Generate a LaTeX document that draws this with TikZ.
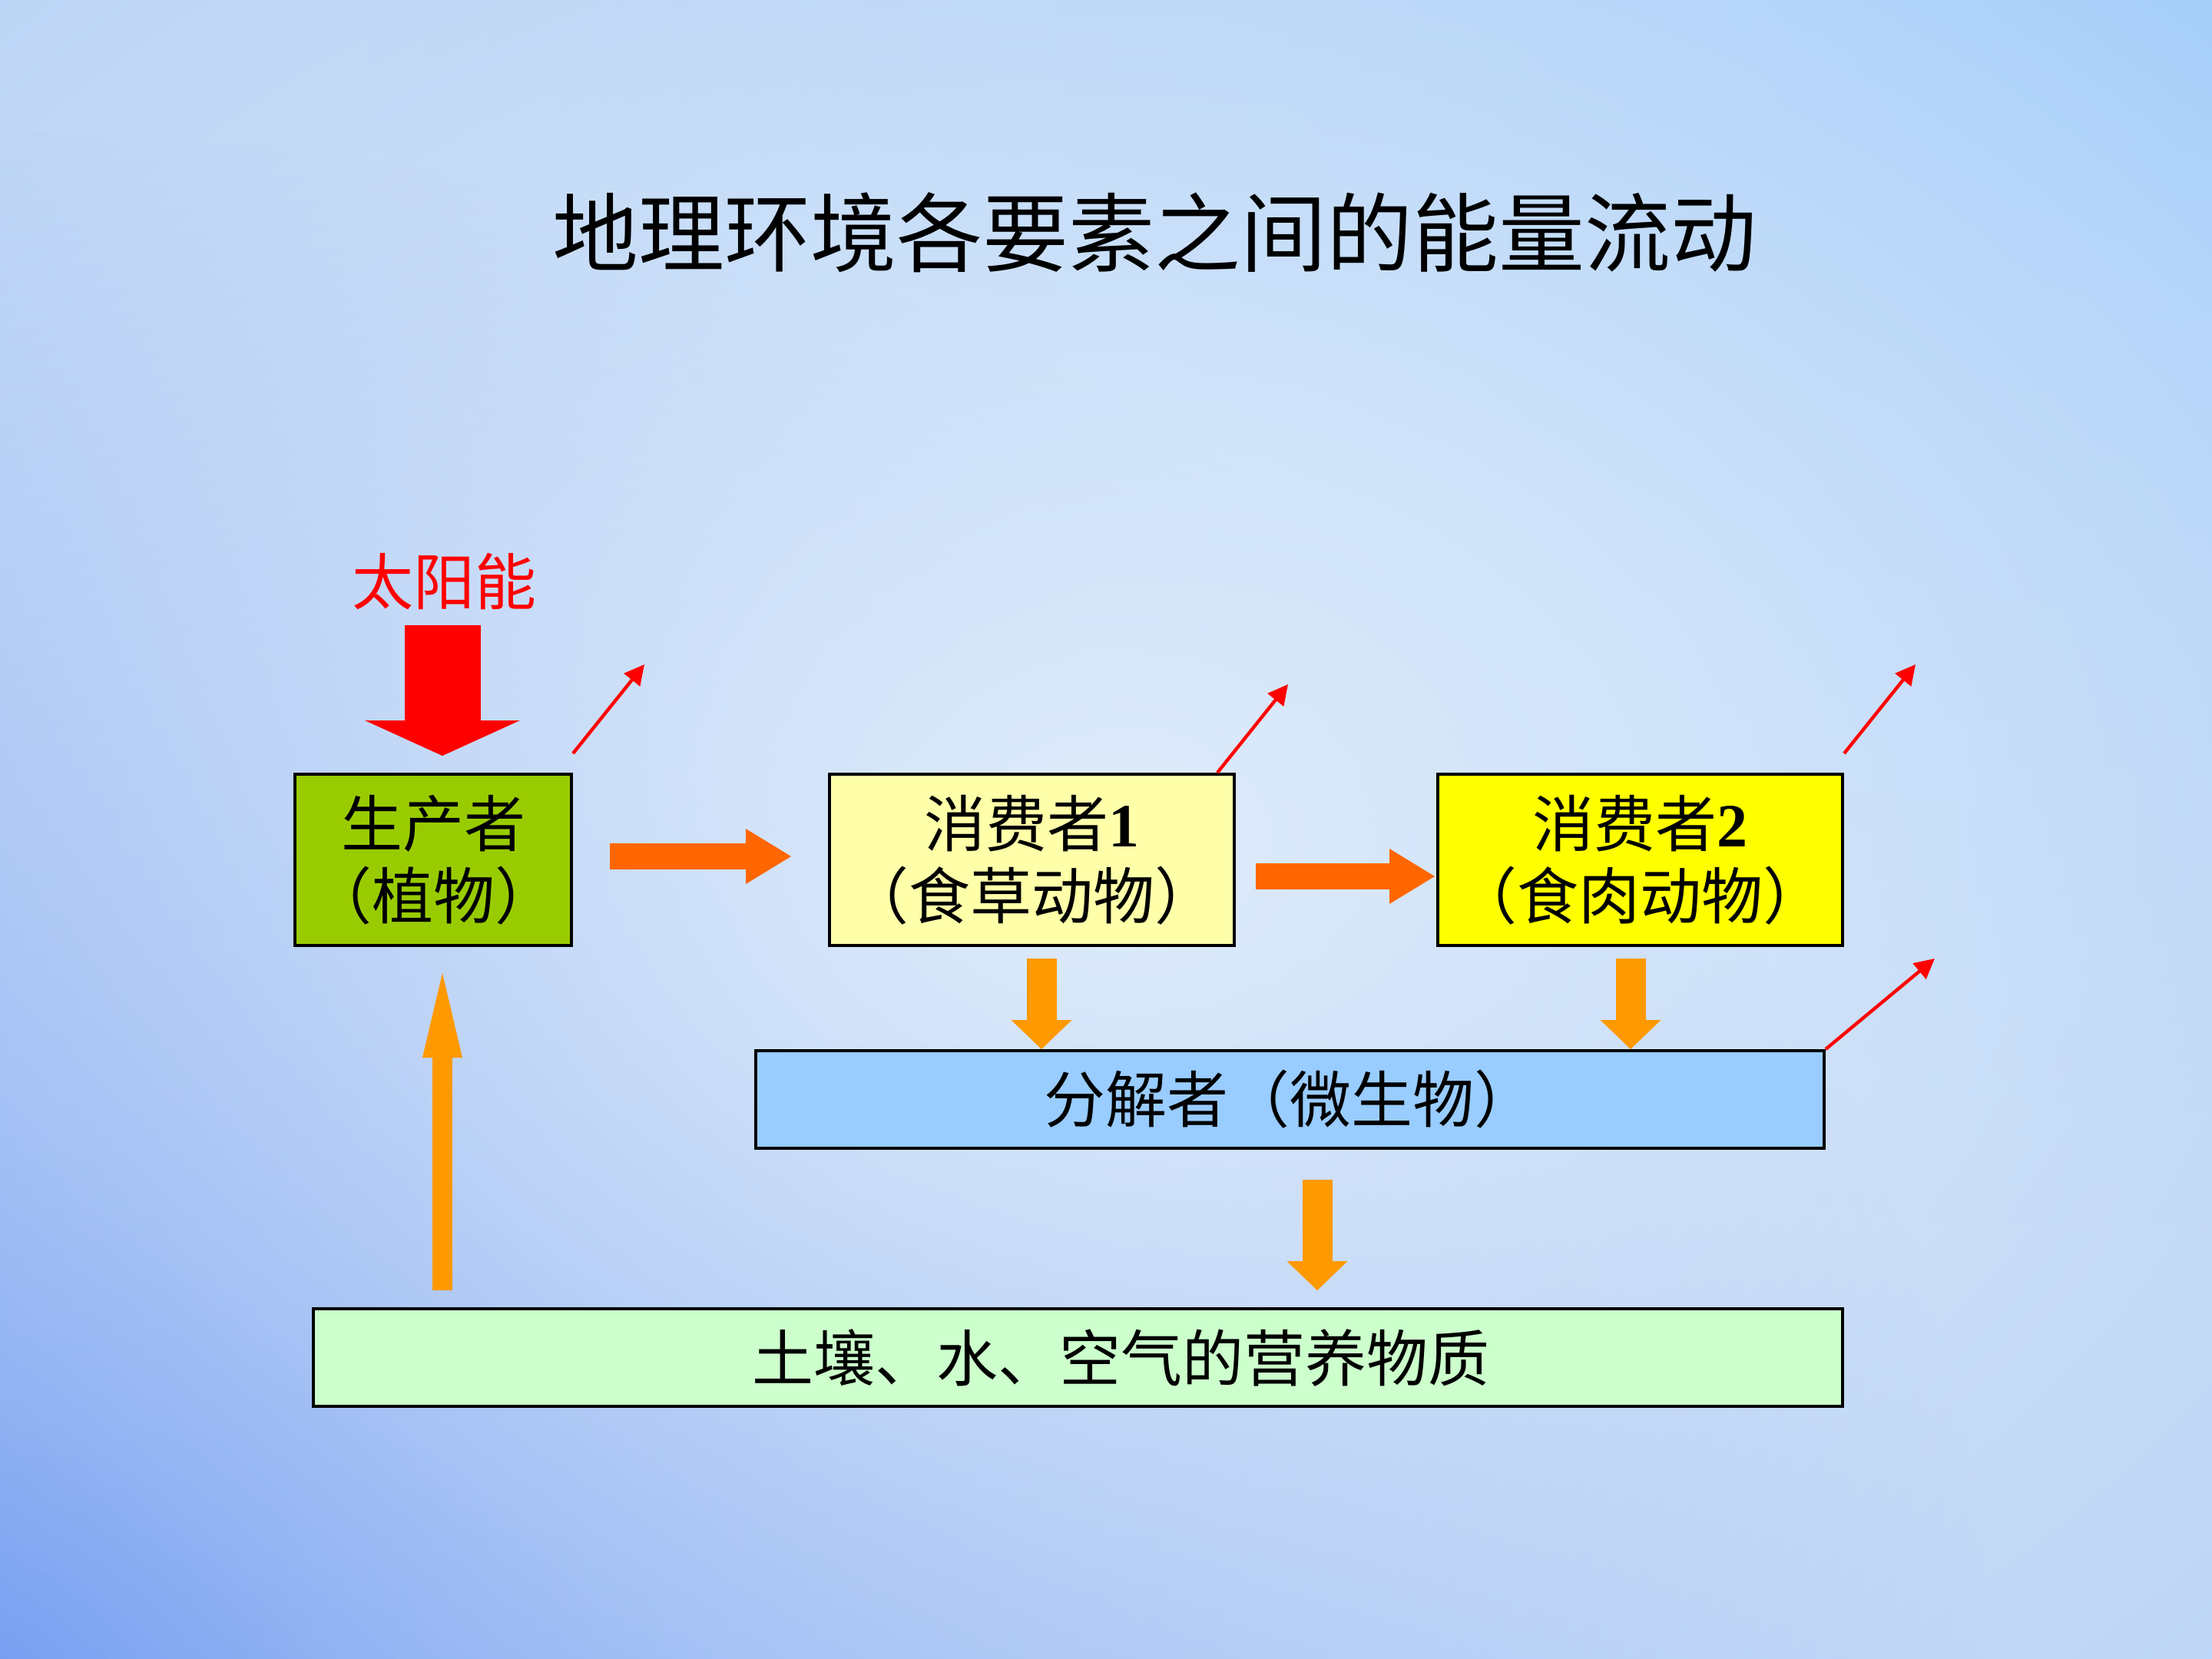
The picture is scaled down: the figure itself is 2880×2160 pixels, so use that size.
\documentclass[tikz,border=0pt]{standalone}
\usepackage{fontspec}
\setmainfont{Noto Sans CJK SC}
\newfontfamily\haltfont[RawFeature=+halt]{Noto Sans CJK SC}
\newfontfamily\digitfont{Liberation Serif}
\usetikzlibrary{arrows.meta,calc,fadings}
\tikzfading[name=glowfade, inner color=transparent!0, outer color=transparent!100]
\definecolor{bgbase}{RGB}{176,204,244}
\definecolor{bgmid}{RGB}{224,237,251}
\definecolor{bgcorner}{RGB}{80,130,238}
\definecolor{bgsky}{RGB}{146,196,250}
\definecolor{prodgreen}{RGB}{153,204,0}
\definecolor{herbyellow}{RGB}{255,255,170}
\definecolor{carnyellow}{RGB}{255,255,0}
\definecolor{decblue}{RGB}{153,204,255}
\definecolor{soilgreen}{RGB}{204,255,204}
\definecolor{flowdeep}{RGB}{255,102,0}
\definecolor{flowlight}{RGB}{255,153,0}
\tikzset{every picture/.style={line width=0.75pt},
  box/.style={draw=black, line width=1pt, inner sep=0pt, align=center, font=\fontsize{20pt}{23.5pt}\selectfont},
  hflow/.style={draw=flowdeep, line width=8.5pt, -{Triangle[width=18pt,length=14.75pt,line width=0pt]}},
  vflow/.style={draw=flowlight, line width=9.75pt, -{Triangle[width=19.75pt,length=9.5pt,line width=0pt]}},
  upflow/.style={draw=flowlight, line width=6.5pt, -{Triangle[width=13pt,length=27.5pt,line width=0pt]}},
  sunflow/.style={draw=red, line width=24.75pt, -{Triangle[width=50.5pt,length=11.5pt,line width=0pt]}},
  loss/.style={draw=red, line width=1.1pt, -{Triangle[width=6.5pt,length=6.5pt]}}
}

\begin{document}
\begin{tikzpicture}[x=0.25pt,y=0.25pt,yscale=-1,xscale=1]
\useasboundingbox (0,0) rectangle (2880,2160);

%Shape: Background
\begin{scope}
\clip (0,0) rectangle (2880,2160);
\fill [bgbase] (0,0) rectangle (2880,2160);
\fill [bgsky, path fading=glowfade] (2880,0) ellipse [x radius=2400, y radius=1600];
\fill [bgcorner, path fading=glowfade] (0,2160) ellipse [x radius=2600, y radius=2000];
\fill [bgmid, path fading=glowfade] (1450,1100) ellipse [x radius=2800, y radius=2100];
\end{scope}

% Text Node
\node (title) at (1503,303) {\fontsize{28pt}{34pt}\selectfont 地理环境各要素之间的能量流动};
% Text Node
\node [text=red, font=\fontsize{20pt}{24pt}\selectfont] (sun) at (578,757) {太阳能};

%Shape: Rectangle
\node [box, fill=prodgreen, minimum width=90pt, minimum height=55.75pt] (prod) at (564,1119.5) {生产者\\{\haltfont （植物）}};
%Shape: Rectangle
\node [box, fill=herbyellow, minimum width=131.75pt, minimum height=55.75pt] (cons1) at (1343.5,1119.5) {消费者{\digitfont\bfseries 1}\\{\haltfont （食草动物）}};
%Shape: Rectangle
\node [box, fill=carnyellow, minimum width=131.75pt, minimum height=55.75pt] (cons2) at (2135.5,1119.5) {消费者{\digitfont\bfseries 2}\\{\haltfont （食肉动物）}};
%Shape: Rectangle
\node [box, fill=decblue, minimum width=347.75pt, minimum height=31.75pt] (dec) at (1679.5,1431.5) {分解者（微生物）};
%Shape: Rectangle
\node [box, fill=soilgreen, minimum width=497.75pt, minimum height=31.75pt] (soil) at (1403.5,1767.5) {\hspace*{28pt}土壤、水、空气的营养物质};

% free ends of the heat losses
\coordinate (heat1) at (839,865);
\coordinate (heat2) at (1677,891);
\coordinate (heat3) at (2494,865);
\coordinate (heat4) at (2519,1248);

%Straight Lines
\draw [sunflow] ($(sun.center)+(-2,57)$) -- ($(prod.north)+(12,-22)$);
%Straight Lines
\draw [hflow] ($(prod.east)+(48,-4.5)$) -- ($(cons1.west)+(-48,-4.5)$);
\draw [hflow] ($(cons1.east)+(26,21.5)$) -- ($(cons2.west)+(-2,21.5)$);
%Straight Lines
\draw [vflow] ($(cons1.south)+(12.5,15)$) -- ($(dec.north -| cons1.south)+(12.5,0)$);
\draw [vflow] ($(cons2.south)+(-12.5,15)$) -- ($(dec.north -| cons2.south)+(-12.5,0)$);
\draw [vflow] ($(dec.south)+(35.5,39)$) -- ($(soil.north -| dec.south)+(35.5,-22)$);
%Straight Lines
\draw [upflow] ($(soil.north -| prod.south)+(12,-22)$) -- ($(prod.south)+(12,34)$);
%Straight Lines
\draw [loss] ($(prod.north east)+(0,-25)$) -- (heat1);
\draw [loss] ($(cons1.north east)+(-24,0)$) -- (heat2);
\draw [loss] ($(cons2.north east)+(0,-25)$) -- (heat3);
\draw [loss] (dec.north east) -- (heat4);

\end{tikzpicture}
\end{document}
